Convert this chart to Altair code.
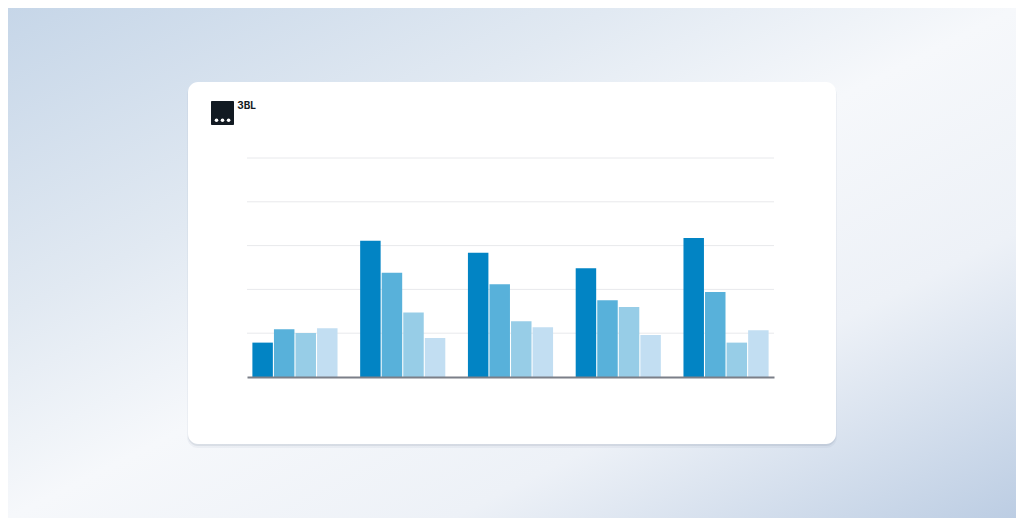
import altair as alt
import pandas as pd

# ---- data ----
groups = ["Group 1", "Group 2", "Group 3", "Group 4", "Group 5"]
series = ["Series 1", "Series 2", "Series 3", "Series 4"]
series_1 = [15.7, 62.2, 56.7, 49.7, 63.5]
series_2 = [21.8, 47.6, 42.3, 35.1, 38.8]
series_3 = [20.1, 29.5, 25.4, 32.0, 15.7]
series_4 = [22.3, 17.8, 22.7, 19.2, 21.4]
grid_values = [20, 40, 60, 80, 100]
colors = ["#0284c4", "#58b1da", "#97cde7", "#c2def2"]
logo_text = "3BL"

rows = []
for name, vals in zip(series, [series_1, series_2, series_3, series_4]):
    for g, v in zip(groups, vals):
        rows.append({"group": g, "series": name, "value": v})
df = pd.DataFrame(rows)

W, H = 527, 219
PAD_L, PAD_T, PAD_R, PAD_B = 239, 150, 242, 141
one = pd.DataFrame({"k": [0]})

# page-wide soft gradient background
bg = alt.Chart(one).mark_rect(
    color=alt.LinearGradient(
        gradient="linear",
        stops=[
            alt.GradientStop(color="#c6d6e8", offset=0),
            alt.GradientStop(color="#e1e9f2", offset=0.3),
            alt.GradientStop(color="#f6f8fb", offset=0.5),
            alt.GradientStop(color="#edf1f7", offset=0.72),
            alt.GradientStop(color="#bccde3", offset=1),
        ],
        x1=0, y1=0, x2=1, y2=1,
    )
).encode(x=alt.value(-PAD_L), x2=alt.value(W + PAD_R), y=alt.value(-PAD_T), y2=alt.value(H + PAD_B))

# card shadow + card
shadow2 = alt.Chart(one).mark_rect(color="#5a6a80", opacity=0.06, cornerRadius=11).encode(
    x=alt.value(-60), x2=alt.value(590), y=alt.value(-74), y2=alt.value(290))
shadow1 = alt.Chart(one).mark_rect(color="#5a6a80", opacity=0.12, cornerRadius=10).encode(
    x=alt.value(-59), x2=alt.value(589), y=alt.value(-75), y2=alt.value(288))
card = alt.Chart(one).mark_rect(color="#ffffff", cornerRadius=10).encode(
    x=alt.value(-59), x2=alt.value(589), y=alt.value(-76), y2=alt.value(286))

# logo
logo_sq = alt.Chart(one).mark_rect(color="#121a22", cornerRadius=1).encode(
    x=alt.value(-36), x2=alt.value(-13), y=alt.value(-57), y2=alt.value(-33))
dot1 = alt.Chart(one).mark_circle(color="#ffffff", opacity=1, size=13).encode(x=alt.value(-30.5), y=alt.value(-37.8))
dot2 = alt.Chart(one).mark_circle(color="#ffffff", opacity=1, size=13).encode(x=alt.value(-24.5), y=alt.value(-37.8))
dot3 = alt.Chart(one).mark_circle(color="#ffffff", opacity=1, size=13).encode(x=alt.value(-18.4), y=alt.value(-37.8))
logo_txt = alt.Chart(one).mark_text(
    text=logo_text, font="Inter", fontSize=10, fontWeight="bold", color="#121a22",
    align="left", baseline="alphabetic"
).encode(x=alt.value(-9.8), y=alt.value(-48.6))

# gridlines
grid = alt.Chart(pd.DataFrame({"v": grid_values})).mark_rule(color="#e8e9ec", strokeWidth=1).encode(
    y=alt.Y("v:Q", scale=alt.Scale(domain=[0, 100]), axis=None),
    x=alt.value(0), x2=alt.value(W),
)

bars = alt.Chart(df).mark_bar().encode(
    x=alt.X("group:N", sort=groups,
            scale=alt.Scale(paddingInner=0.21, paddingOuter=0.05),
            axis=alt.Axis(labels=False, ticks=False, title=None, grid=False,
                          domainColor="#7b7f88", domainWidth=2, zindex=1)),
    xOffset=alt.XOffset("series:N", sort=series, scale=alt.Scale(paddingInner=0.05, paddingOuter=0)),
    y=alt.Y("value:Q", scale=alt.Scale(domain=[0, 100]), axis=None),
    color=alt.Color("series:N", scale=alt.Scale(domain=series, range=colors), legend=None),
)

chart = alt.layer(
    bg, shadow2, shadow1, card, logo_sq, dot1, dot2, dot3, logo_txt, grid, bars
).properties(
    width=W, height=H,
    autosize=alt.AutoSizeParams(type="none"),
    padding={"left": PAD_L, "top": PAD_T, "right": PAD_R, "bottom": PAD_B},
).configure_view(stroke=None)

chart.save("out.html", embed_options={"renderer": "svg", "actions": False})
